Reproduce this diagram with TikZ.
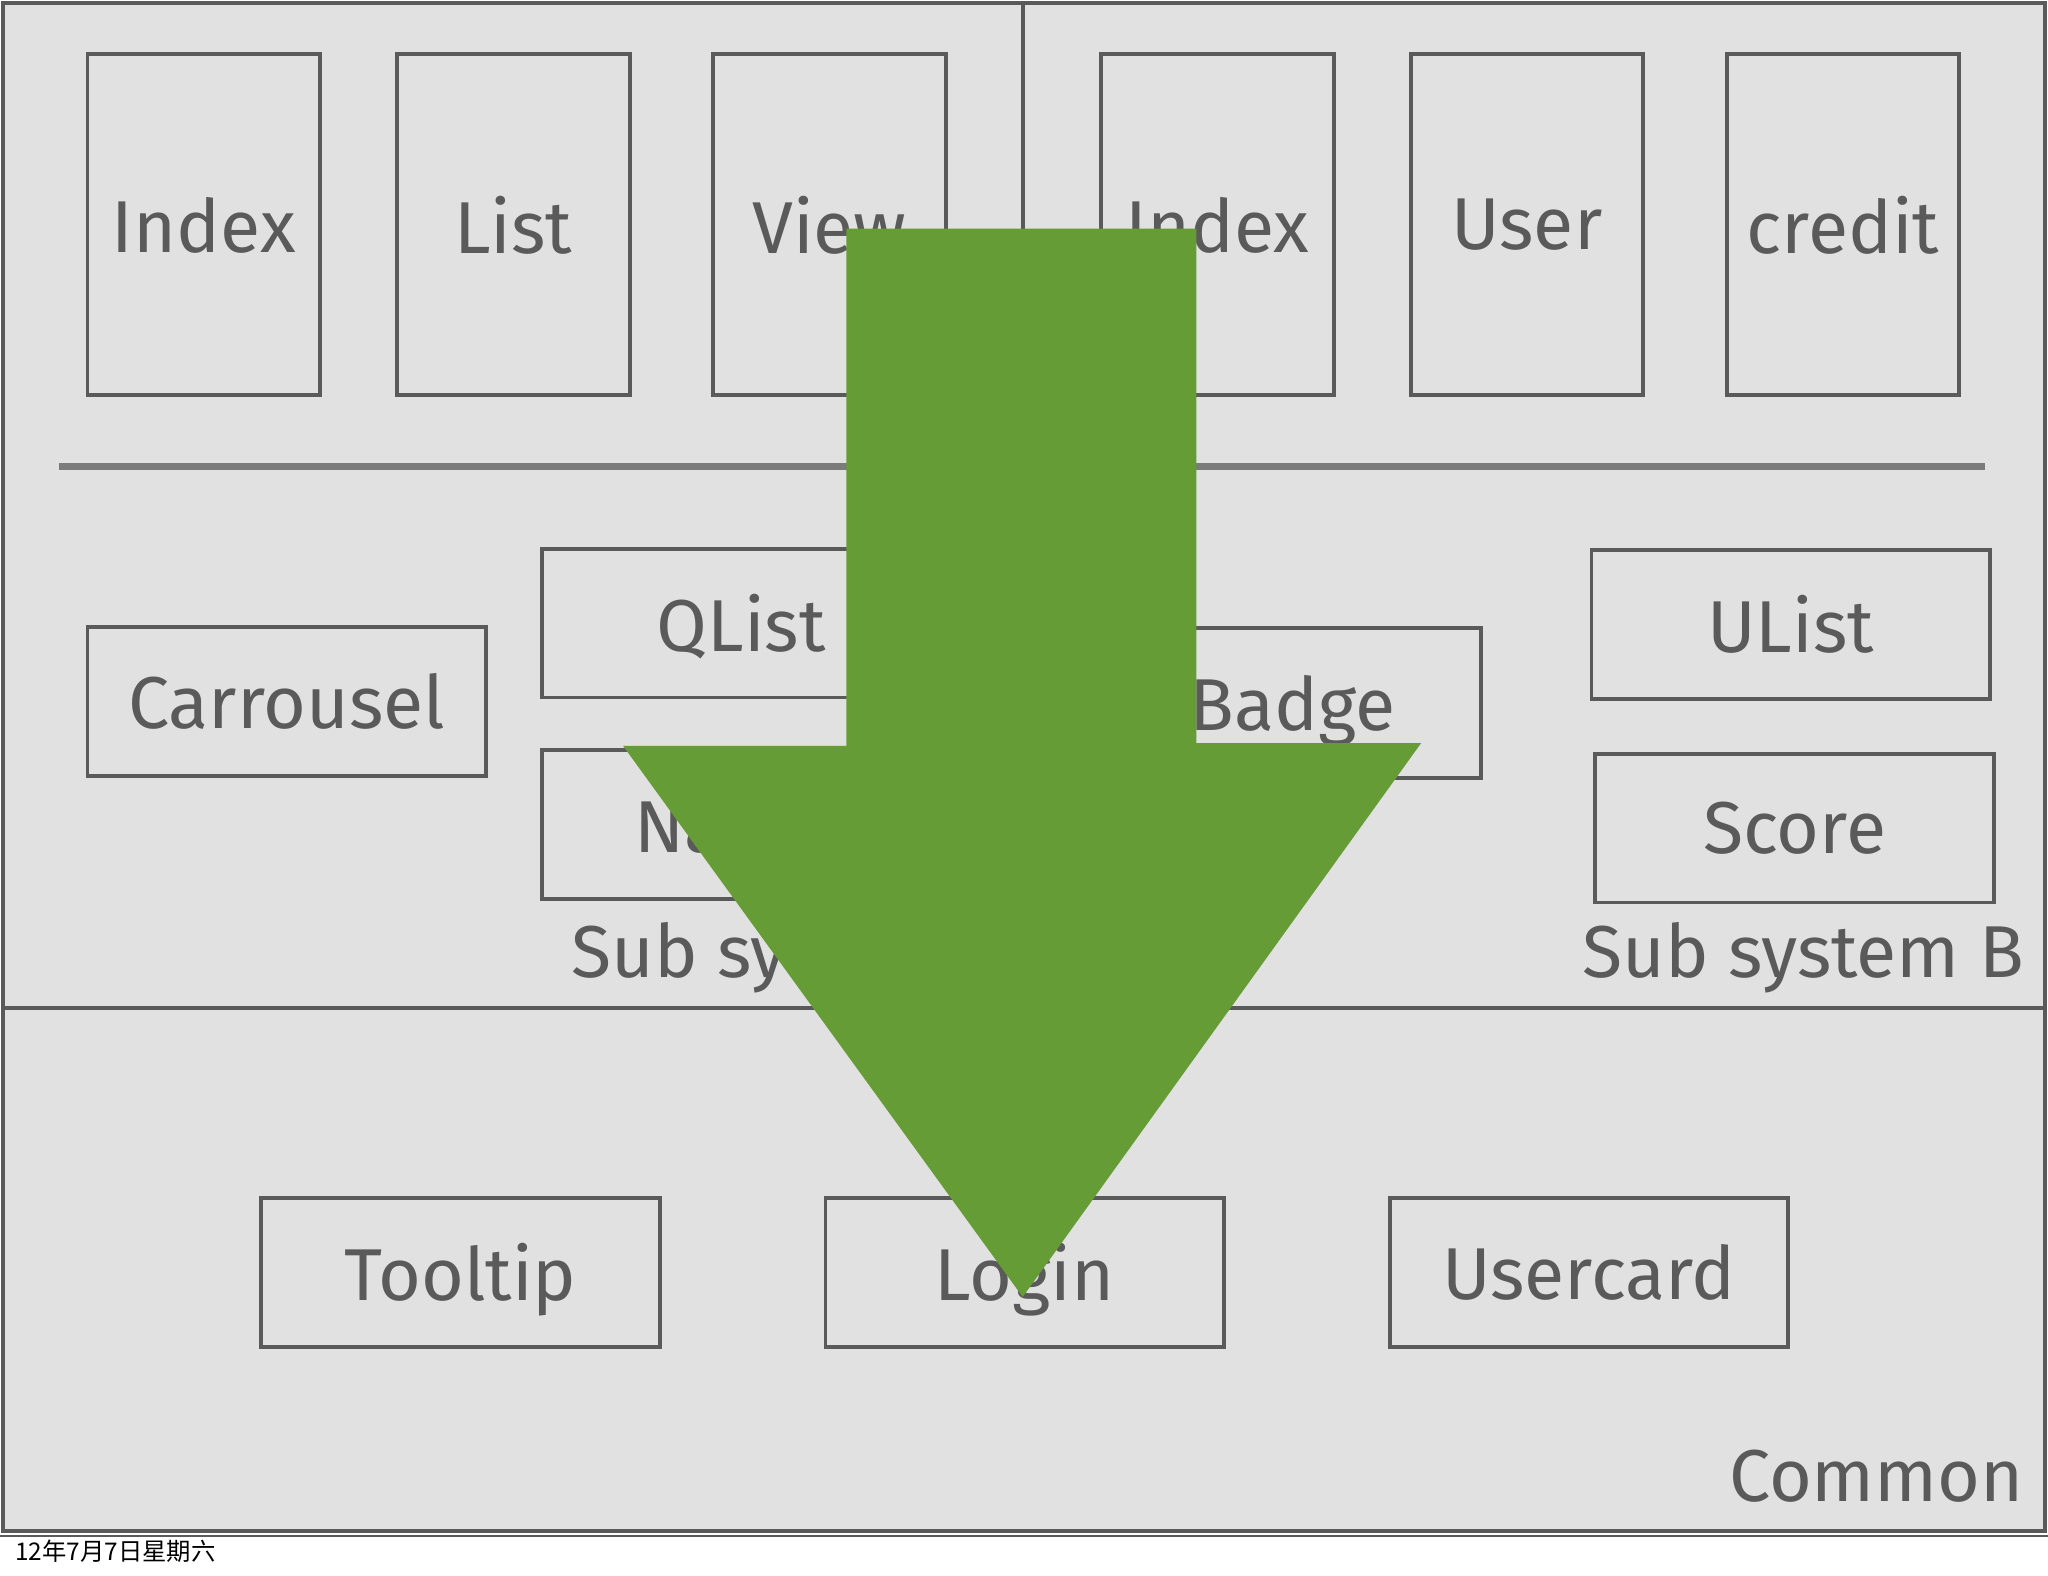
\documentclass[tikz,border=0pt]{standalone}
\usepackage{fontspec}
\setmainfont{Fira Sans}
\newfontfamily\cjk{Noto Sans CJK SC}
\definecolor{bg}{HTML}{E1E1E1}
\definecolor{ln}{HTML}{5A5A5A}
\definecolor{arr}{HTML}{669C35}
\begin{document}
\begin{tikzpicture}[x=0.01cm,y=-0.01cm,
 box/.style={draw=ln,line width=0.85pt,text=ln,inner sep=0pt,text depth=0pt,font=\fontsize{16}{19}\selectfont},
 lbl/.style={text=ln,font=\fontsize{16}{19}\selectfont}]
\useasboundingbox[fill=white] (0,0) rectangle (1568,1206);
\draw[fill=bg,draw=ln,line width=0.85pt] (2,2) rectangle (1566,1172);
\draw[ln,line width=0.5pt] (0,1176) -- (1568,1176);
\draw[ln,line width=0.85pt] (783,2) -- (783,772);
\draw[ln,line width=0.85pt] (2,772) -- (1566,772);
\draw[ln!80,line width=1.6pt] (45,357) -- (1520,357);
\foreach \x/\t [count=\i] in {67/Index,304/List,546/View,843/Index,1080/User,1322/credit}
  \node[box,minimum width=178*0.01cm,minimum height=261*0.01cm] (t\i) at (\x+89,172) {\t};
\node[box,minimum width=305*0.01cm,minimum height=114*0.01cm] (car) at (219.5,537) {Carrousel};
\node[box,minimum width=305*0.01cm,minimum height=114*0.01cm] (ql) at (567.5,477) {QList};
\node[box,minimum width=305*0.01cm,minimum height=114*0.01cm] (nav) at (567.5,631) {};
\node[lbl,anchor=west,inner sep=0] (navt) at (485,634) {Nav};
\node[box,minimum width=289*0.01cm,minimum height=115*0.01cm] (bad) at (989.5,538) {Badge};
\node[box,minimum width=305*0.01cm,minimum height=114*0.01cm] (ul) at (1371,478) {UList};
\node[box,minimum width=305*0.01cm,minimum height=114*0.01cm] (sc) at (1374,634) {Score};
\node[lbl,anchor=west] (sa) at (425,733) {Sub system A};
\node[lbl,anchor=east] (sb) at (1562,733) {Sub system B};
\node[box,minimum width=305*0.01cm,minimum height=114*0.01cm] (tt) at (352.5,974) {Tooltip};
\node[box,minimum width=305*0.01cm,minimum height=114*0.01cm] (lg) at (784.5,974) {Login};
\node[box,minimum width=305*0.01cm,minimum height=114*0.01cm] (uc) at (1216.5,974) {Usercard};
\node[lbl,anchor=east] (cm) at (1562,1130) {Common};
\node[anchor=west,inner sep=0,font=\cjk\fontsize{5.3}{6}\selectfont] (dt) at (11,1188) {12年7月7日星期六};
\fill[arr] (648,175) -- (916,175) -- (916,569) -- (1088,569) -- (783,993) -- (477,571) -- (648,571) -- cycle;
\end{tikzpicture}
\end{document}
